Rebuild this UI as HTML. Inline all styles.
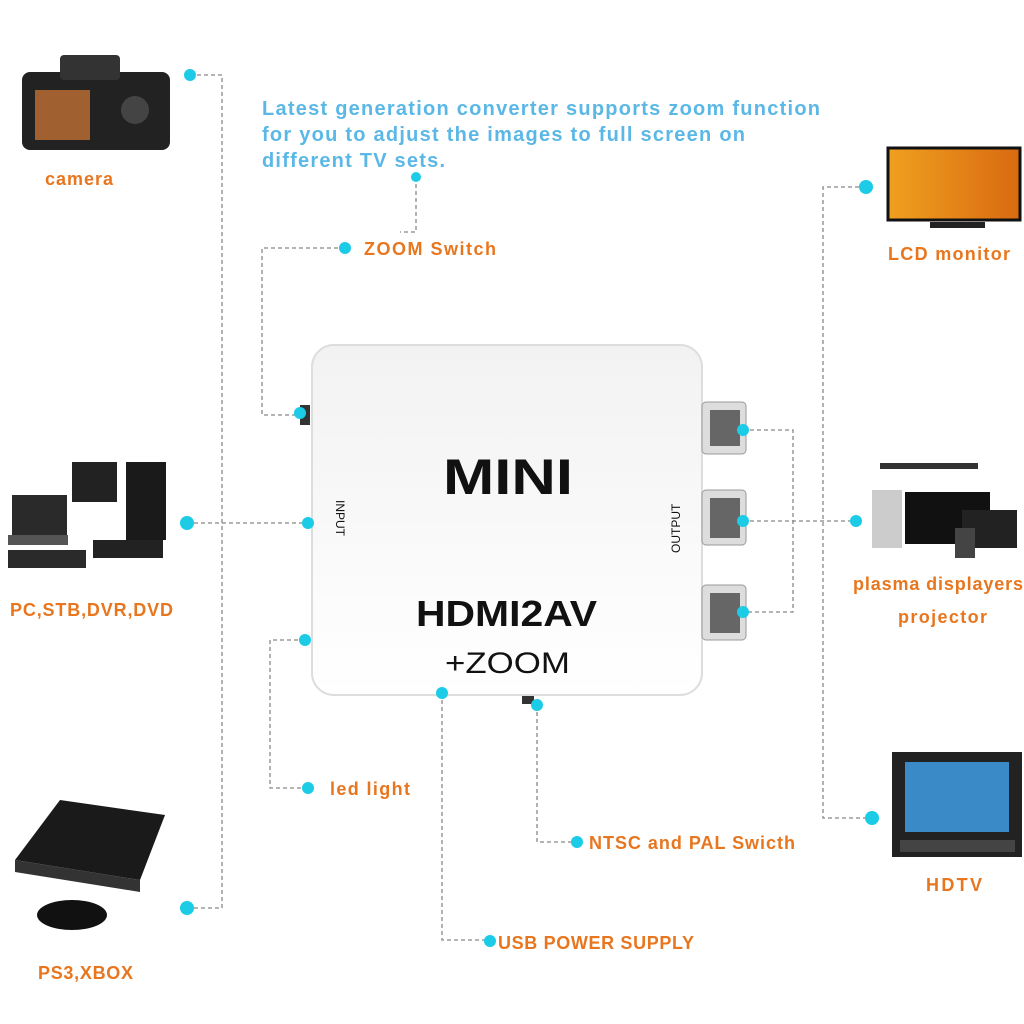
<!DOCTYPE html>
<html><head><meta charset="utf-8"><style>
html,body{margin:0;padding:0;background:#fff;}
svg{display:block}
.o{font-family:"Liberation Sans",sans-serif;font-weight:bold;font-size:18px;fill:#e8761e}
.b{font-family:"Liberation Sans",sans-serif;font-weight:bold;font-size:20px;fill:#5bb8e6}
.d{stroke:#888;stroke-width:1.3;stroke-dasharray:4 3;fill:none}
.c{fill:#1ccbe6}
</style></head><body>
<svg width="1024" height="1024" viewBox="0 0 1024 1024">
<defs>
<linearGradient id="lcd" x1="0" y1="0" x2="1" y2="0"><stop offset="0" stop-color="#f0a020"/><stop offset="1" stop-color="#d86a10"/></linearGradient>
<linearGradient id="dev" x1="0" y1="0" x2="0" y2="1"><stop offset="0" stop-color="#f2f2f2"/><stop offset="1" stop-color="#ffffff"/></linearGradient>
</defs>
<path class="d" d="M190 75 H222 V908 H187"/>
<path class="d" d="M187 523 H308"/>
<path class="d" d="M345 248 H262 V415 H300"/>
<path class="d" d="M416 177 V232 H400"/>
<path class="d" d="M308 788 H270 V640 H305"/>
<path class="d" d="M442 693 V940 H490"/>
<path class="d" d="M537 705 V842 H577"/>
<path class="d" d="M743 430 H793 V612 H743 M743 521 H856"/>
<path class="d" d="M866 187 H823 V818 H872"/>
<!-- camera -->
<rect x="22" y="72" width="148" height="78" rx="8" fill="#222"/>
<rect x="60" y="55" width="60" height="25" rx="4" fill="#333"/>
<rect x="35" y="90" width="55" height="50" fill="#a06030"/>
<circle cx="135" cy="110" r="14" fill="#444"/>
<!-- PC group -->
<rect x="72" y="462" width="45" height="40" fill="#222"/>
<rect x="126" y="462" width="40" height="78" fill="#1a1a1a"/>
<rect x="12" y="495" width="55" height="40" fill="#2a2a2a"/>
<rect x="8" y="535" width="60" height="10" fill="#555"/>
<rect x="8" y="550" width="78" height="18" fill="#2a2a2a"/>
<rect x="93" y="540" width="70" height="18" fill="#222"/>
<!-- PS3 -->
<polygon points="15,860 60,800 165,815 140,880" fill="#1a1a1a"/>
<polygon points="15,860 140,880 140,892 15,872" fill="#333"/>
<ellipse cx="72" cy="915" rx="35" ry="15" fill="#111"/>
<!-- LCD monitor -->
<rect x="888" y="148" width="132" height="72" fill="url(#lcd)" stroke="#111" stroke-width="3"/>
<rect x="930" y="222" width="55" height="6" fill="#222"/>
<!-- plasma -->
<rect x="880" y="463" width="98" height="6" fill="#333"/>
<rect x="872" y="490" width="30" height="58" fill="#ccc"/>
<rect x="905" y="492" width="85" height="52" fill="#111"/>
<rect x="962" y="510" width="55" height="38" fill="#222"/>
<rect x="955" y="528" width="20" height="30" fill="#444"/>
<!-- HDTV -->
<rect x="892" y="752" width="130" height="105" fill="#222"/>
<rect x="905" y="762" width="104" height="70" fill="#3a8ac8"/>
<rect x="900" y="840" width="115" height="12" fill="#444"/>
<!-- device -->
<rect x="300" y="405" width="10" height="20" fill="#333"/>
<rect x="522" y="690" width="12" height="14" fill="#333"/>
<rect x="312" y="345" width="390" height="350" rx="22" fill="url(#dev)" stroke="#ddd" stroke-width="2"/>
<g fill="#ddd" stroke="#999">
<rect x="702" y="402" width="44" height="52" rx="4"/>
<rect x="702" y="490" width="44" height="55" rx="4"/>
<rect x="702" y="585" width="44" height="55" rx="4"/>
</g>
<g fill="#666"><rect x="710" y="410" width="30" height="36"/><rect x="710" y="498" width="30" height="40"/><rect x="710" y="593" width="30" height="40"/></g>
<text x="443" y="494" font-family="Liberation Sans,sans-serif" font-weight="bold" font-size="50" fill="#111" textLength="130" lengthAdjust="spacingAndGlyphs">MINI</text>
<text x="416" y="626" font-family="Liberation Sans,sans-serif" font-weight="bold" font-size="36" fill="#111" textLength="181" lengthAdjust="spacingAndGlyphs">HDMI2AV</text>
<text x="445" y="673" font-family="Liberation Sans,sans-serif" font-size="30" fill="#111" textLength="125" lengthAdjust="spacingAndGlyphs">+ZOOM</text>
<text transform="translate(336,500) rotate(90)" font-family="Liberation Sans,sans-serif" font-size="12" fill="#111">INPUT</text>
<text transform="translate(680,553) rotate(-90)" font-family="Liberation Sans,sans-serif" font-size="12" fill="#111">OUTPUT</text>
<!-- dots -->
<g class="c">
<circle cx="190" cy="75" r="6"/><circle cx="187" cy="523" r="7"/><circle cx="187" cy="908" r="7"/>
<circle cx="345" cy="248" r="6"/><circle cx="416" cy="177" r="5"/><circle cx="300" cy="413" r="6"/>
<circle cx="308" cy="523" r="6"/><circle cx="308" cy="788" r="6"/><circle cx="305" cy="640" r="6"/>
<circle cx="442" cy="693" r="6"/><circle cx="490" cy="941" r="6"/><circle cx="537" cy="705" r="6"/>
<circle cx="577" cy="842" r="6"/><circle cx="743" cy="430" r="6"/><circle cx="743" cy="521" r="6"/>
<circle cx="743" cy="612" r="6"/><circle cx="856" cy="521" r="6"/><circle cx="866" cy="187" r="7"/>
<circle cx="872" cy="818" r="7"/>
</g>
<!-- top text -->
<text class="b" x="262" y="115" textLength="558" lengthAdjust="spacing">Latest generation converter supports zoom function</text>
<text class="b" x="262" y="141" textLength="483" lengthAdjust="spacing">for you to adjust the images to full screen on</text>
<text class="b" x="262" y="167" textLength="183" lengthAdjust="spacing">different TV sets.</text>
<!-- labels -->
<text class="o" x="45" y="185" textLength="68">camera</text>
<text class="o" x="10" y="616" textLength="163">PC,STB,DVR,DVD</text>
<text class="o" x="38" y="979" textLength="95">PS3,XBOX</text>
<text class="o" x="364" y="255" textLength="132">ZOOM Switch</text>
<text class="o" x="330" y="795" textLength="80">led light</text>
<text class="o" x="589" y="849" textLength="206">NTSC and PAL Swicth</text>
<text class="o" x="498" y="949" textLength="196">USB POWER SUPPLY</text>
<text class="o" x="888" y="260" textLength="122">LCD monitor</text>
<text class="o" x="853" y="590" textLength="170">plasma displayers</text>
<text class="o" x="898" y="623" textLength="89">projector</text>
<text class="o" x="926" y="891" textLength="56">HDTV</text>
</svg>
</body></html>
